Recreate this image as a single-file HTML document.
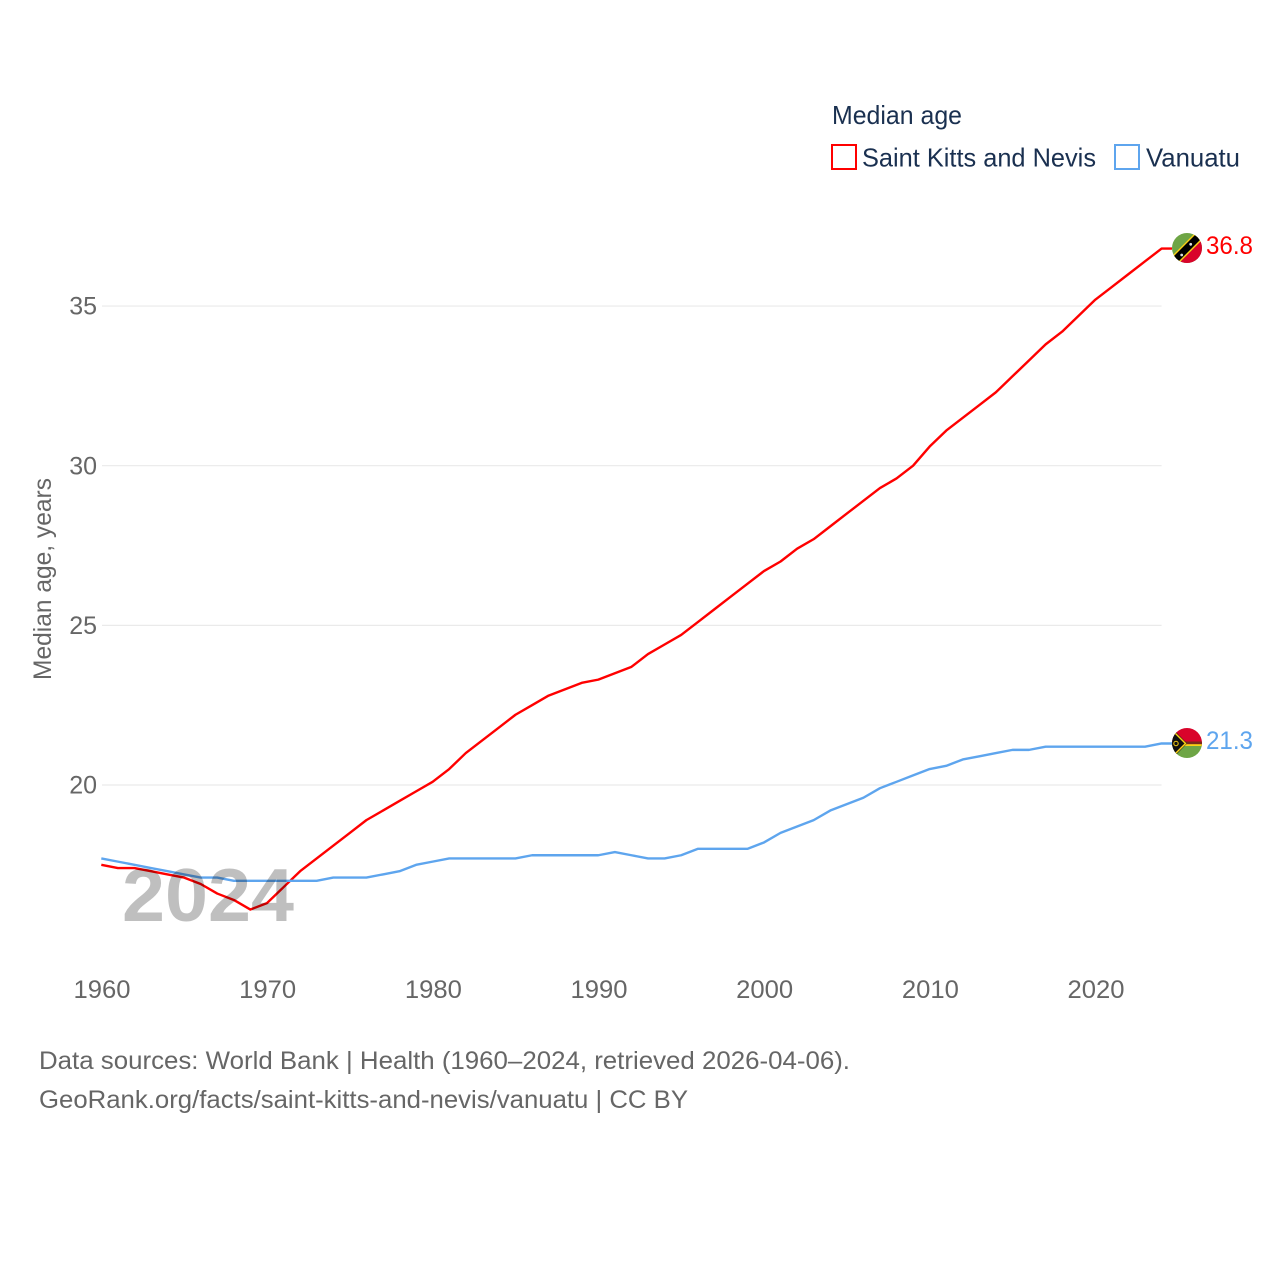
<!DOCTYPE html>
<html>
<head>
<meta charset="utf-8">
<style>
html,body{margin:0;padding:0;background:#fff}
svg{display:block}
text{font-family:"Liberation Sans",sans-serif}
</style>
</head>
<body>
<svg id="chart" xmlns="http://www.w3.org/2000/svg" width="1280" height="1280" viewBox="0 0 1280 1280">
<defs>
<clipPath id="clip-kn"><circle cx="1187" cy="248" r="15"/></clipPath>
<clipPath id="clip-vu"><circle cx="1187" cy="743" r="15"/></clipPath>
</defs>
<rect width="1280" height="1280" fill="#fff"/>
<g id="grid"></g>
<g id="yticks"></g>
<g id="xticks"></g>
<text transform="translate(51,680) rotate(-90)" font-size="25" fill="#666" textLength="202" lengthAdjust="spacingAndGlyphs">Median age, years</text>
<g id="series"></g>
<text x="122" y="921" font-size="75" font-weight="700" fill="#000" fill-opacity="0.25" textLength="172" lengthAdjust="spacingAndGlyphs">2024</text>
<g>
<text x="832" y="124" font-size="26" fill="#1a3050" textLength="130" lengthAdjust="spacingAndGlyphs">Median age</text>
<rect x="832" y="145" width="24" height="24" fill="none" stroke="#ff0000" stroke-width="2"/>
<text x="862" y="166.5" font-size="26" fill="#1a3050" textLength="234" lengthAdjust="spacingAndGlyphs">Saint Kitts and Nevis</text>
<rect x="1115" y="145" width="24" height="24" fill="none" stroke="#5ea5ee" stroke-width="2"/>
<text x="1146" y="166.5" font-size="26" fill="#1a3050" textLength="94" lengthAdjust="spacingAndGlyphs">Vanuatu</text>
</g>
<g clip-path="url(#clip-kn)">
<rect x="1170" y="231" width="34" height="34" fill="#6ea545"/>
<polygon points="1209,233 1177,265 1209,265" fill="#d9042b"/>
<polygon points="1165,263 1197,231 1209,233 1177,265" fill="#fcd116"/>
<polygon points="1166,264 1198,232 1206,234 1174,266" fill="#000"/>
<circle cx="1181.7" cy="255" r="1.4" fill="#ddd"/>
<circle cx="1190.7" cy="244.3" r="1.4" fill="#ddd"/>
</g>
<g clip-path="url(#clip-vu)">
<rect x="1170" y="726" width="34" height="18" fill="#d9042b"/>
<rect x="1170" y="744" width="34" height="16" fill="#6ea545"/>
<rect x="1170" y="741.5" width="34" height="4.5" fill="#7a2a1a"/>
<rect x="1184" y="744.2" width="20" height="1.8" fill="#fcd116"/>
<polygon points="1170,726 1187,743.5 1170,761" fill="#111"/>
<polyline points="1171,729 1185.5,743.5 1171,758" fill="none" stroke="#fcd116" stroke-width="1.5"/>
<circle cx="1176" cy="743.5" r="2.2" fill="none" stroke="#fcd116" stroke-width="1"/>
</g>
<g id="endlabels"></g>
<g>
<text x="39" y="1069" font-size="25" fill="#666" textLength="811" lengthAdjust="spacingAndGlyphs">Data sources: World Bank | Health (1960–2024, retrieved 2026-04-06).</text>
<text x="39" y="1108" font-size="25" fill="#666" textLength="649" lengthAdjust="spacingAndGlyphs">GeoRank.org/facts/saint-kitts-and-nevis/vanuatu | CC BY</text>
</g>
</svg>
<script>
const startYear = 1960;
const xTickYears = [1960, 1970, 1980, 1990, 2000, 2010, 2020];
const yTickValues = [20, 25, 30, 35];
const saintKittsValues = [17.5,17.4,17.4,17.3,17.2,17.1,16.9,16.6,16.4,16.1,16.3,16.8,17.3,17.7,18.1,18.5,18.9,19.2,19.5,19.8,20.1,20.5,21.0,21.4,21.8,22.2,22.5,22.8,23.0,23.2,23.3,23.5,23.7,24.1,24.4,24.7,25.1,25.5,25.9,26.3,26.7,27.0,27.4,27.7,28.1,28.5,28.9,29.3,29.6,30.0,30.6,31.1,31.5,31.9,32.3,32.8,33.3,33.8,34.2,34.7,35.2,35.6,36.0,36.4,36.8];
const vanuatuValues = [17.7,17.6,17.5,17.4,17.3,17.2,17.1,17.1,17.0,17.0,17.0,17.0,17.0,17.0,17.1,17.1,17.1,17.2,17.3,17.5,17.6,17.7,17.7,17.7,17.7,17.7,17.8,17.8,17.8,17.8,17.8,17.9,17.8,17.7,17.7,17.8,18.0,18.0,18.0,18.0,18.2,18.5,18.7,18.9,19.2,19.4,19.6,19.9,20.1,20.3,20.5,20.6,20.8,20.9,21.0,21.1,21.1,21.2,21.2,21.2,21.2,21.2,21.2,21.2,21.3];

const NS = 'http://www.w3.org/2000/svg';
function xScale(year) { return 101.3 + (year - 1960) * 16.567; }
function yScale(v) { return 785 - (v - 20) * 31.93; }
function make(tag, attrs, parent) {
  const el = document.createElementNS(NS, tag);
  for (const k in attrs) el.setAttribute(k, attrs[k]);
  parent.appendChild(el);
  return el;
}
const gridG = document.getElementById('grid');
const yG = document.getElementById('yticks');
const xG = document.getElementById('xticks');
const seriesG = document.getElementById('series');
const labelG = document.getElementById('endlabels');
const plotRight = xScale(2024);

yTickValues.forEach(function (v) {
  const line = make('line', {x1: 102, x2: plotRight, y1: yScale(v), y2: yScale(v), stroke: '#eaeaea', 'stroke-width': 1.2}, gridG);
  
  
  const t = make('text', {x: 97, y: yScale(v) + 8.6, 'text-anchor': 'end', 'font-size': 25, fill: '#666'}, yG);
  
  
  t.textContent = String(v);
});
xTickYears.forEach(function (y) {
  const t = make('text', {x: xScale(y) + 0.7, y: 998, 'text-anchor': 'middle', 'font-size': 25, fill: '#666', textLength: 57, lengthAdjust: 'spacingAndGlyphs'}, xG);
  
  
  t.textContent = String(y);
});
function pathFor(values) {
  return values.map(function (v, i) {
    return (i ? 'L' : 'M') + xScale(startYear + i).toFixed(2) + ' ' + yScale(v).toFixed(2);
  }).join(' ');
}
function drawSeries(values, color, seriesName, flagX) {
  const last = values[values.length - 1];
  const ly = yScale(last);
  const p = make('path', {d: pathFor(values) + ' L' + flagX + ' ' + ly.toFixed(2), fill: 'none', stroke: color, 'stroke-width': 2.4, 'stroke-linejoin': 'round'}, seriesG);
  
  
  const t = make('text', {x: 1206, y: ly + 5.5, 'font-size': 25, fill: color, textLength: 47, lengthAdjust: 'spacingAndGlyphs'}, labelG);
  
  
  t.textContent = last.toFixed(1);
}
drawSeries(saintKittsValues, '#ff0000', 'line-saint-kitts', 1172);
drawSeries(vanuatuValues, '#5ea5ee', 'line-vanuatu', 1172);
</script>
</body>
</html>
